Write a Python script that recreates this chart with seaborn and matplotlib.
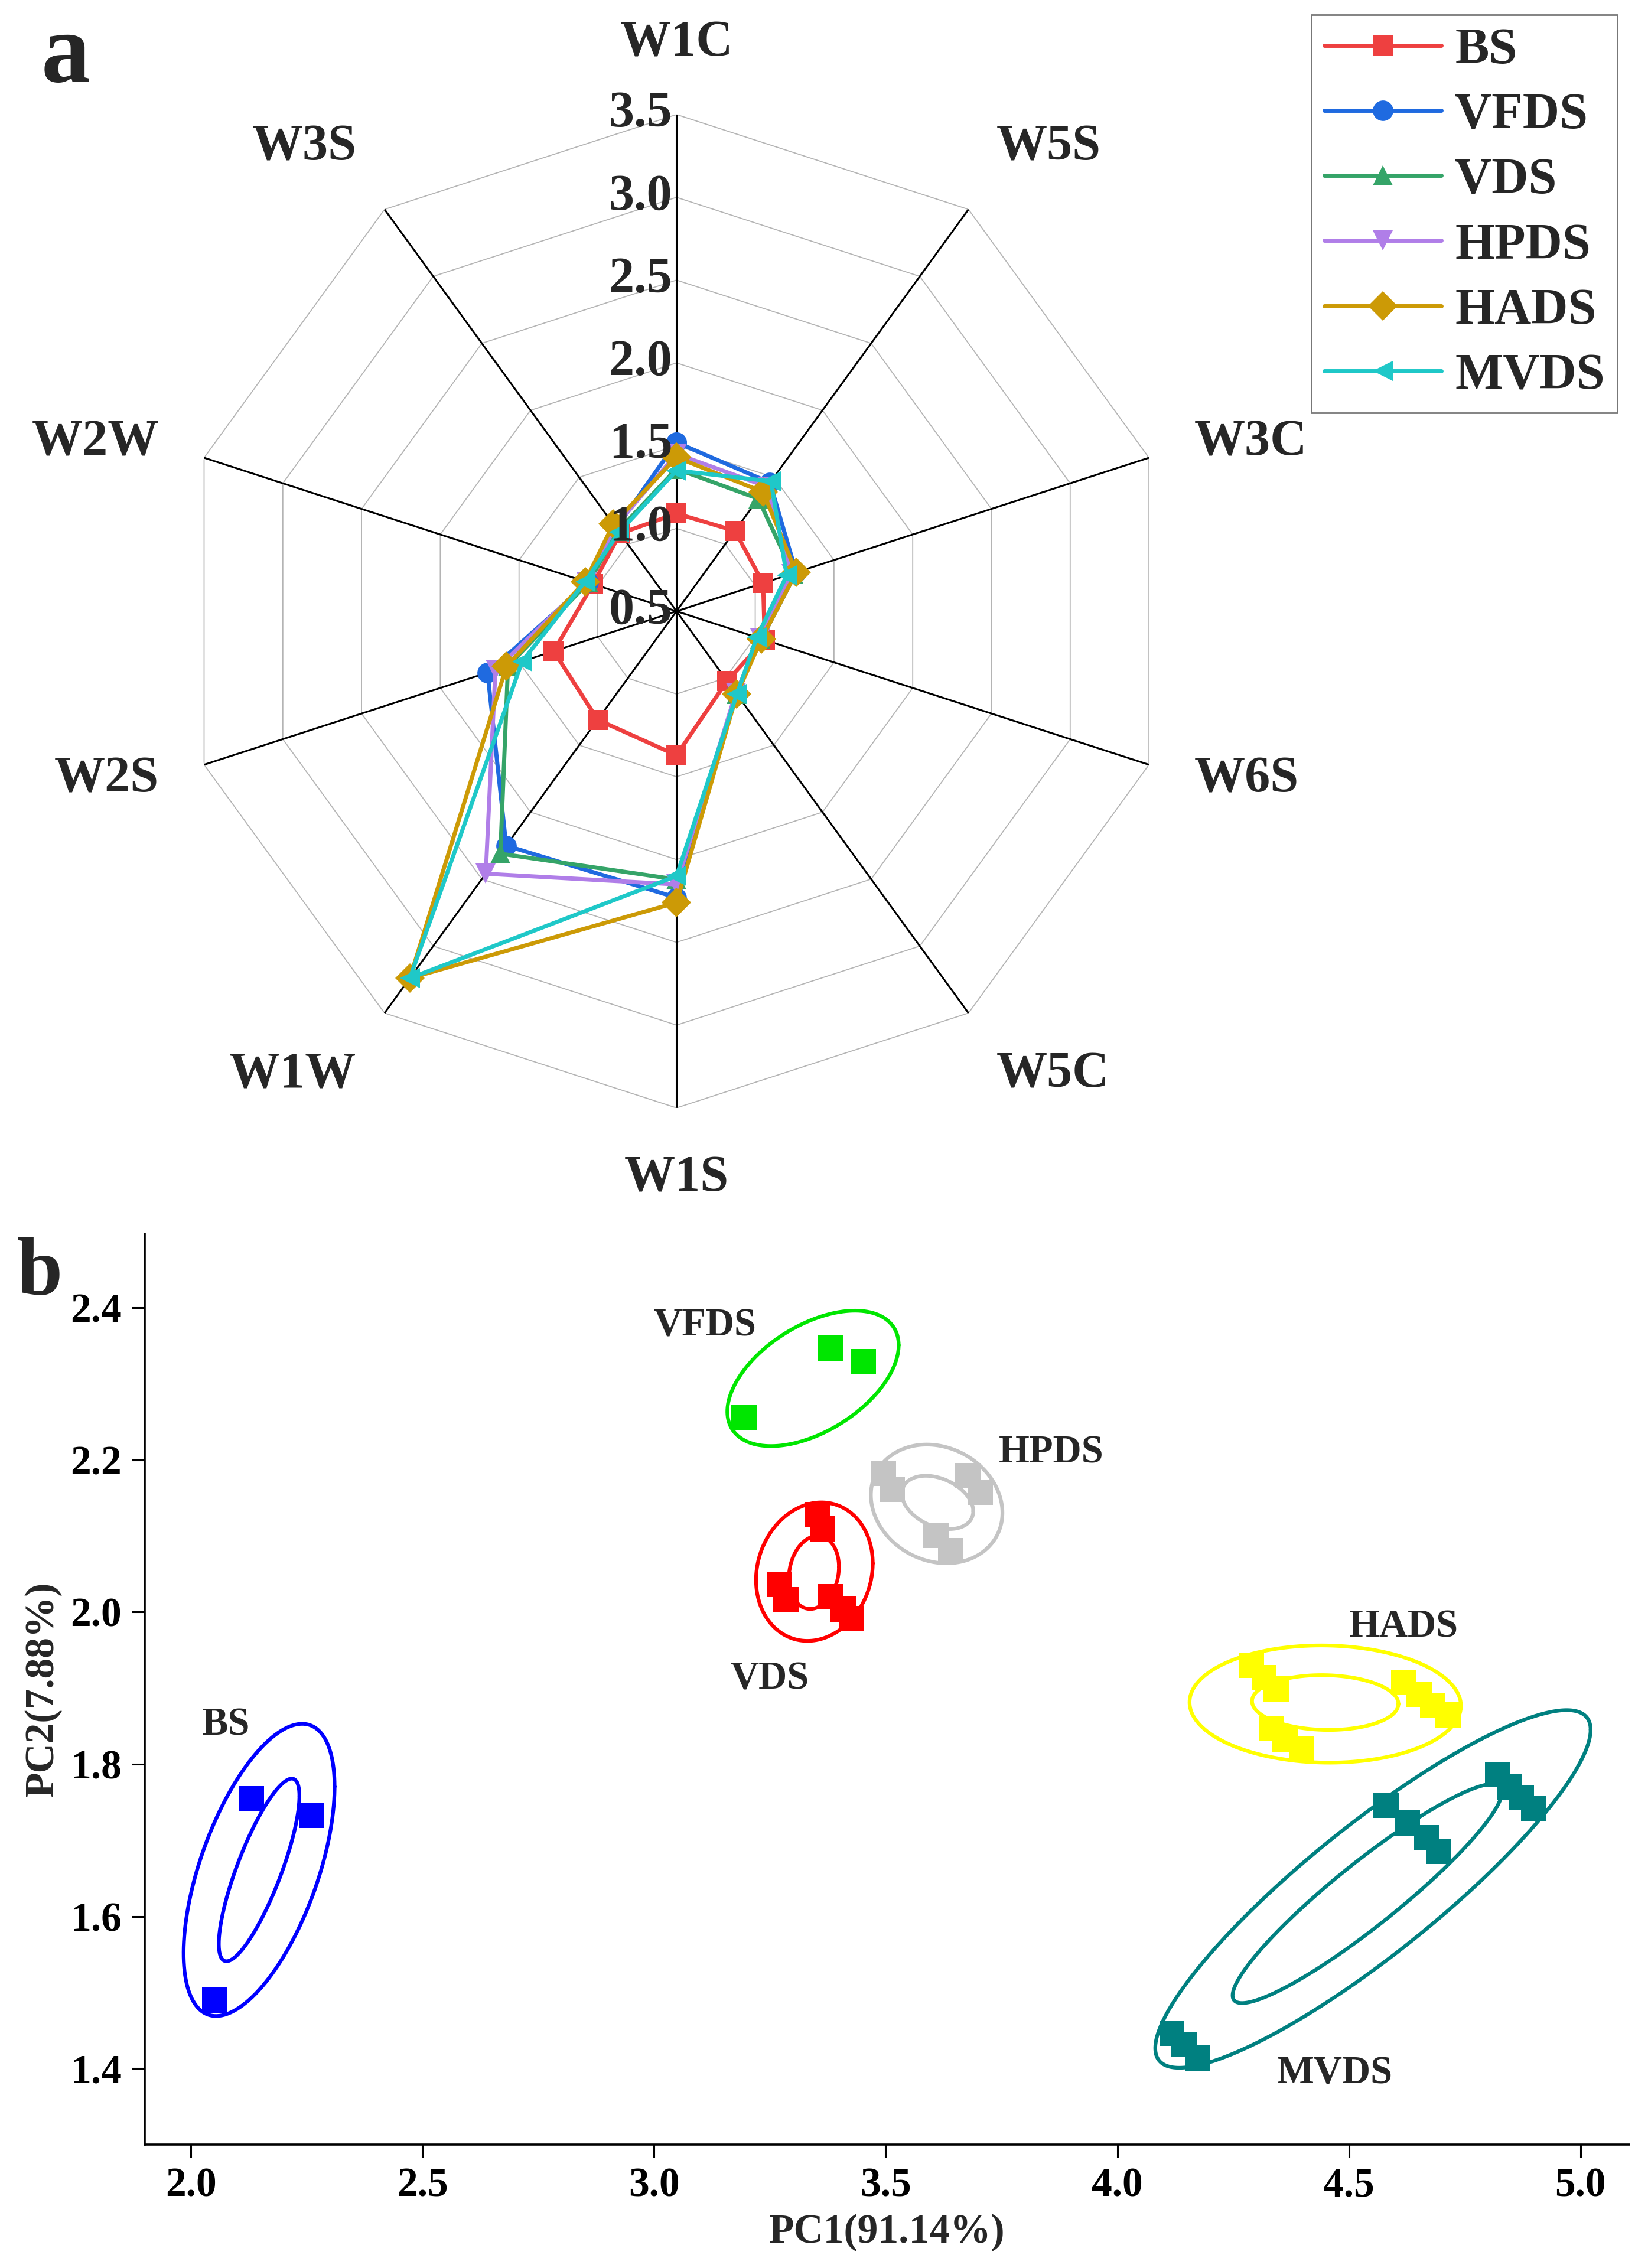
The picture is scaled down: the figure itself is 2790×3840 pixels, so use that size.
import numpy as np
import pandas as pd
import matplotlib
matplotlib.use("Agg")
import matplotlib.pyplot as plt
import seaborn as sns
from matplotlib.lines import Line2D

sns.set_theme(style="white")
plt.rcParams["font.family"] = ["Liberation Serif", "DejaVu Serif"]
plt.rcParams["font.weight"] = "bold"
plt.rcParams["axes.labelweight"] = "bold"

# ---------------- data: radar (panel a) ----------------
radar_axes = ["W1C", "W5S", "W3C", "W6S", "W5C", "W1S", "W1W", "W2S", "W2W", "W3S"]
radar_ticks = [0.5, 1.0, 1.5, 2.0, 2.5, 3.0, 3.5]
series_names = ["BS", "VFDS", "VDS", "HPDS", "HADS", "MVDS"]
bs_vals   = [1.09, 1.10, 1.05, 1.06, 1.02, 1.37, 1.31, 1.28, 1.03, 1.08]
vfds_vals = [1.52, 1.46, 1.26, 1.04, 1.11, 2.23, 2.25, 1.70, 1.06, 1.12]
vds_vals  = [1.36, 1.34, 1.24, 1.03, 1.12, 2.12, 2.31, 1.57, 1.06, 1.10]
hpds_vals = [1.45, 1.43, 1.23, 1.03, 1.11, 2.15, 2.46, 1.65, 1.07, 1.13]
hads_vals = [1.43, 1.39, 1.26, 1.04, 1.12, 2.26, 3.24, 1.58, 1.08, 1.15]
mvds_vals = [1.35, 1.47, 1.20, 1.01, 1.12, 2.10, 3.24, 1.48, 1.08, 1.09]
radar_values = [bs_vals, vfds_vals, vds_vals, hpds_vals, hads_vals, mvds_vals]
radar_colors = ["#ee4040", "#1f6ae0", "#35a468", "#b07ee8", "#cc9a06", "#1fc8c8"]
radar_markers = ["s", "o", "^", "v", "D", "<"]

# ---------------- data: PCA scores (panel b) ----------------
bs_x = [2.131, 2.260, 2.051]
bs_y = [1.755, 1.733, 1.490]
vfds_x = [3.381, 3.452, 3.194]
vfds_y = [2.347, 2.329, 2.255]
vds_x = [3.352, 3.363, 3.271, 3.284, 3.381, 3.408, 3.426]
vds_y = [2.128, 2.109, 2.036, 2.016, 2.020, 2.004, 1.991]
hpds_x = [3.495, 3.514, 3.677, 3.704, 3.608, 3.640]
hpds_y = [2.182, 2.161, 2.179, 2.157, 2.101, 2.081]
hads_x = [4.290, 4.317, 4.343, 4.619, 4.652, 4.681, 4.714, 4.333, 4.362, 4.398]
hads_y = [1.930, 1.914, 1.899, 1.907, 1.891, 1.877, 1.865, 1.847, 1.833, 1.820]
mvds_x = [4.580, 4.626, 4.668, 4.694, 4.821, 4.847, 4.873, 4.899, 4.118, 4.144, 4.173]
mvds_y = [1.746, 1.723, 1.703, 1.685, 1.786, 1.770, 1.756, 1.742, 1.446, 1.432, 1.414]
pca_groups = ["BS", "VFDS", "VDS", "HPDS", "HADS", "MVDS"]
pca_x = [bs_x, vfds_x, vds_x, hpds_x, hads_x, mvds_x]
pca_y = [bs_y, vfds_y, vds_y, hpds_y, hads_y, mvds_y]
pca_colors = {"BS": "#0000ff", "VFDS": "#00e600", "VDS": "#ff0000",
              "HPDS": "#c4c4c4", "HADS": "#ffff00", "MVDS": "#008080"}

# confidence ellipses: group, centre x, centre y, sd x, sd y, correlation
ell_group = ["BS", "BS", "VFDS", "HPDS", "HPDS", "VDS", "VDS", "HADS", "HADS", "MVDS", "MVDS"]
ell_cx = [2.147, 2.147, 3.343, 3.610, 3.612, 3.346, 3.345, 4.449, 4.449, 4.552, 4.540]
ell_cy = [1.661, 1.661, 2.307, 2.142, 2.144, 2.053, 2.052, 1.879, 1.881, 1.636, 1.630]
ell_sx = [0.163, 0.087, 0.185, 0.142, 0.077, 0.126, 0.054, 0.293, 0.158, 0.470, 0.291]
ell_sy = [0.192, 0.120, 0.089, 0.078, 0.035, 0.091, 0.048, 0.077, 0.036, 0.235, 0.144]
ell_rho = [0.57, 0.81, 0.49, -0.15, -0.33, 0.12, 0.15, -0.03, -0.05, 0.89, 0.93]

xticks_b = [2.0, 2.5, 3.0, 3.5, 4.0, 4.5, 5.0]
yticks_b = [1.4, 1.6, 1.8, 2.0, 2.2, 2.4]

# ---------------- figure ----------------
fig = plt.figure(figsize=(27.9, 38.4), dpi=100)

# ---- panel a: radar ----
ax = fig.add_axes([0.109, 0.5115, 0.603, 0.438], projection="polar")
ax.set_theta_zero_location("N")
ax.set_theta_direction(-1)
n = len(radar_axes)
theta = np.linspace(0, 2 * np.pi, n, endpoint=False)
theta_c = np.append(theta, theta[0])
ax.set_ylim(radar_ticks[0], radar_ticks[-1])
ax.grid(False)
ax.set_xticks([])
ax.set_yticks([])
ax.spines["polar"].set_visible(False)

for r in radar_ticks[1:]:
    ax.plot(theta_c, [r] * (n + 1), color="#b4b4b4", lw=1.3, zorder=1)
for t in theta:
    ax.plot([t, t], [radar_ticks[0], radar_ticks[-1]], color="black", lw=2.2, zorder=2)

for name, vals, c, m in zip(series_names, radar_values, radar_colors, radar_markers):
    sns.lineplot(x=theta_c, y=vals + [vals[0]], sort=False, estimator=None, ax=ax,
                 color=c, marker=m, markersize=25, markeredgewidth=0,
                 linewidth=5, zorder=3)

# category labels: anchored just beyond the outer ring, aligned away from the centre
label_r = radar_ticks[0] + (radar_ticks[-1] - radar_ticks[0]) * 1.096
for t, lab in zip(theta, radar_axes):
    s, c = np.sin(t), np.cos(t)
    ha = "left" if s > 0.1 else ("right" if s < -0.1 else "center")
    va = "bottom" if c > 0.5 else ("top" if c < -0.5 else "center")
    ax.text(t, label_r, lab, ha=ha, va=va, fontsize=62, fontweight="bold", clip_on=False)

for v in radar_ticks:
    ax.annotate(f"{v:.1f}", xy=(0, v), xytext=(-5, 0), textcoords="offset points",
                ha="right", va="center", fontsize=62, fontweight="bold",
                annotation_clip=False, zorder=4)

handles = [Line2D([0], [0], color=c, marker=m, lw=5, markersize=25, markeredgewidth=0)
           for c, m in zip(radar_colors, radar_markers)]
leg = fig.legend(handles, series_names, loc="upper right", bbox_to_anchor=(0.9815, 0.9935),
                 frameon=True, fancybox=False, edgecolor="#555555",
                 prop={"size": 62, "weight": "bold"}, handlelength=2.3,
                 labelspacing=0.36, borderpad=0.25, handletextpad=0.27, borderaxespad=0)
leg.get_frame().set_linewidth(2)

fig.text(0.040, 0.9745, "a", fontsize=120, fontweight="bold", ha="center", va="center")

# ---- panel b: PCA ----
ax2 = fig.add_axes([0.0878, 0.0544, 0.9007, 0.4016])
rows = []
for g, xs, ys in zip(pca_groups, pca_x, pca_y):
    for xv, yv in zip(xs, ys):
        rows.append({"group": g, "PC1": xv, "PC2": yv})
df = pd.DataFrame(rows)

tt = np.linspace(0, 2 * np.pi, 300)
for g, cx, cy, sx, sy, rho in zip(ell_group, ell_cx, ell_cy, ell_sx, ell_sy, ell_rho):
    cov = np.array([[sx * sx, rho * sx * sy], [rho * sx * sy, sy * sy]])
    L = np.linalg.cholesky(cov)
    pts = L @ np.vstack([np.cos(tt), np.sin(tt)])
    ax2.plot(cx + pts[0], cy + pts[1], color=pca_colors[g], lw=4.5, zorder=2)

sns.scatterplot(data=df, x="PC1", y="PC2", hue="group", palette=pca_colors,
                marker="s", s=950, linewidth=0, legend=False, ax=ax2, zorder=3)

label_pos = {"VFDS": (3.109, 2.376), "HPDS": (3.857, 2.209), "VDS": (3.249, 1.912),
             "BS": (2.076, 1.851), "HADS": (4.618, 1.980), "MVDS": (4.470, 1.393)}
for g, (lx, ly) in label_pos.items():
    ax2.text(lx, ly, g, ha="center", va="center", fontsize=48, fontweight="bold")

ax2.set_xlim(1.90, 5.105)
ax2.set_ylim(1.30, 2.497)
ax2.set_xticks(xticks_b)
ax2.set_yticks(yticks_b)
ax2.set_xticklabels([f"{v:.1f}" for v in xticks_b])
ax2.set_yticklabels([f"{v:.1f}" for v in yticks_b])
sns.despine(ax=ax2)
for s in ("left", "bottom"):
    ax2.spines[s].set_color("black")
    ax2.spines[s].set_linewidth(2.6)
ax2.tick_params(direction="out", length=16, width=2.2, labelsize=50, pad=12,
                bottom=True, left=True, colors="black")
for lab in ax2.get_xticklabels() + ax2.get_yticklabels():
    lab.set_fontweight("bold")
ax2.set_xlabel("PC1(91.14%)", fontsize=50, fontweight="bold", labelpad=10)
ax2.set_ylabel("PC2(7.88%)", fontsize=50, fontweight="bold", labelpad=10)

fig.text(0.024, 0.438, "b", fontsize=100, fontweight="bold", ha="center", va="center")

fig.savefig("out.png", dpi=100)
